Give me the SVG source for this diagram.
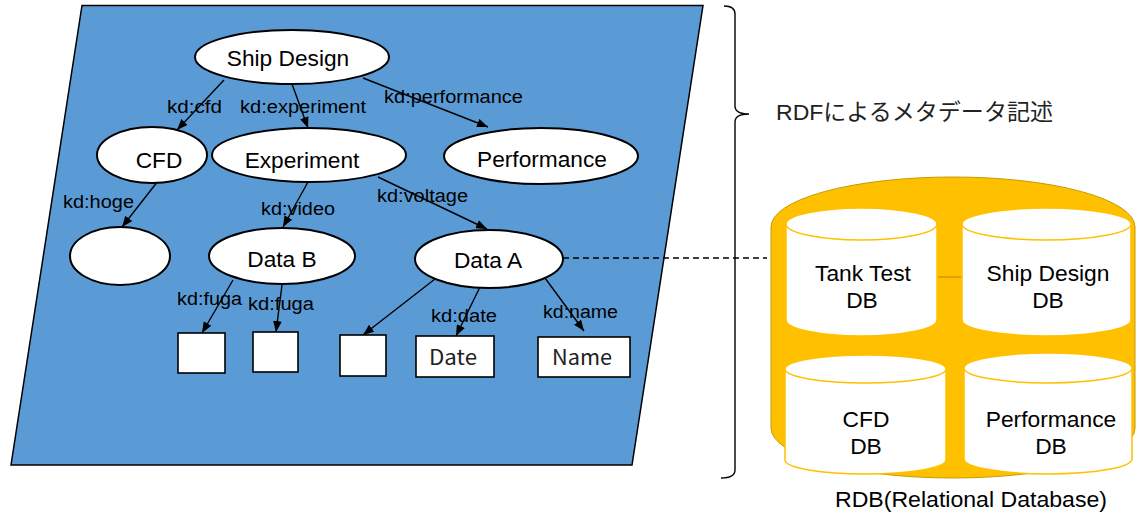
<svg xmlns="http://www.w3.org/2000/svg" width="1136" height="516" viewBox="0 0 1136 516">
  <defs>
    <marker id="arrow" viewBox="0 0 10 8" refX="10" refY="4" markerWidth="11" markerHeight="9" markerUnits="userSpaceOnUse" orient="auto">
      <path d="M0,0 L10,4 L0,8 Z" fill="#000"/>
    </marker>
    <style>
      .plane { fill: #5B9BD5; stroke: #000; stroke-width: 1.5; }
      .node { fill: #fff; stroke: #000; stroke-width: 2; }
      .leaf { fill: #fff; stroke: #000; stroke-width: 1.6; }
      .edge { stroke: #000; stroke-width: 1.4; fill: none; marker-end: url(#arrow); }
      .lbl { font-family: "Liberation Sans", Arial, sans-serif; font-size: 18px; fill: #000; }
      .ntxt { font-family: "Liberation Sans", Arial, sans-serif; font-size: 22.7px; fill: #000; text-anchor: middle; }
      .btxt { font-family: "Noto Sans CJK JP", "Noto Sans", sans-serif; font-size: 21px; fill: #222; text-anchor: middle; }
      .db { fill: #fff; stroke: #FFC000; stroke-width: 1.5; }
      .dbtxt { font-family: "Liberation Sans", Arial, sans-serif; font-size: 22.8px; fill: #000; text-anchor: middle; }
    </style>
  </defs>

  <!-- metadata plane -->
  <polygon class="plane" points="82,5.5 703,5.5 632,465 11,465"/>

  <!-- connectors -->
  <g id="connectors">
    <line class="edge" x1="224" y1="80" x2="177" y2="130"/>
    <line class="edge" x1="292" y1="84" x2="308" y2="128"/>
    <line class="edge" x1="363" y1="78" x2="488" y2="127"/>
    <line class="edge" x1="158" y1="181" x2="122" y2="227"/>
    <line class="edge" x1="308" y1="182" x2="283" y2="227"/>
    <line class="edge" x1="378" y1="177" x2="487" y2="229"/>
    <line class="edge" x1="233" y1="280" x2="202" y2="333"/>
    <line class="edge" x1="282" y1="285" x2="276" y2="332"/>
    <line class="edge" x1="435" y1="279" x2="363" y2="335"/>
    <line class="edge" x1="480" y1="287" x2="456" y2="336"/>
    <line class="edge" x1="545" y1="278" x2="584" y2="331"/>
    <line x1="563" y1="258" x2="767" y2="258" stroke="#000" stroke-width="1.3" stroke-dasharray="6,4"/>
    <text class="lbl" x="167" y="113" textLength="55" lengthAdjust="spacingAndGlyphs">kd:cfd</text>
    <text class="lbl" x="240" y="113" textLength="126" lengthAdjust="spacingAndGlyphs">kd:experiment</text>
    <text class="lbl" x="384" y="103" textLength="139" lengthAdjust="spacingAndGlyphs">kd:performance</text>
    <text class="lbl" x="63" y="208" textLength="71" lengthAdjust="spacingAndGlyphs">kd:hoge</text>
    <text class="lbl" x="261" y="215" textLength="74" lengthAdjust="spacingAndGlyphs">kd:video</text>
    <text class="lbl" x="377" y="202" textLength="91" lengthAdjust="spacingAndGlyphs">kd:voltage</text>
    <text class="lbl" x="177" y="305" textLength="65" lengthAdjust="spacingAndGlyphs">kd:fuga</text>
    <text class="lbl" x="248" y="310" textLength="66" lengthAdjust="spacingAndGlyphs">kd:fuga</text>
    <text class="lbl" x="431" y="322" textLength="66" lengthAdjust="spacingAndGlyphs">kd:date</text>
    <text class="lbl" x="543" y="318" textLength="75" lengthAdjust="spacingAndGlyphs">kd:name</text>
  </g>

  <!-- resource nodes -->
  <g id="ship-design">
    <ellipse class="node" cx="292" cy="57" rx="97" ry="27"/>
    <text class="ntxt" x="288" y="66">Ship Design</text>
  </g>
  <g id="cfd">
    <ellipse class="node" cx="152" cy="155" rx="55" ry="28"/>
    <text class="ntxt" x="159" y="168">CFD</text>
  </g>
  <g id="experiment">
    <ellipse class="node" cx="309" cy="155" rx="97" ry="27"/>
    <text class="ntxt" x="302" y="168">Experiment</text>
  </g>
  <g id="performance">
    <ellipse class="node" cx="541" cy="156" rx="97" ry="28"/>
    <text class="ntxt" x="542" y="167">Performance</text>
  </g>
  <g id="blank-node">
    <ellipse class="node" cx="120" cy="256" rx="50" ry="29"/>
  </g>
  <g id="data-b">
    <ellipse class="node" cx="282" cy="256" rx="73" ry="28"/>
    <text class="ntxt" x="282" y="267">Data B</text>
  </g>
  <g id="data-a">
    <ellipse class="node" cx="489" cy="259" rx="74" ry="29"/>
    <text class="ntxt" x="488" y="268">Data A</text>
  </g>

  <!-- literal nodes -->
  <g id="lit-1"><rect class="leaf" x="178" y="333" width="47" height="40"/></g>
  <g id="lit-2"><rect class="leaf" x="253" y="332" width="45" height="40"/></g>
  <g id="lit-3"><rect class="leaf" x="340" y="335" width="46" height="41"/></g>
  <g id="lit-date">
    <rect class="leaf" x="416" y="336" width="78" height="41"/>
    <text class="btxt" x="453" y="365" textLength="48" lengthAdjust="spacingAndGlyphs">Date</text>
  </g>
  <g id="lit-name">
    <rect class="leaf" x="538" y="337" width="92" height="40"/>
    <text class="btxt" x="582" y="365" textLength="60" lengthAdjust="spacingAndGlyphs">Name</text>
  </g>

  <!-- brace and caption -->
  <g id="brace">
    <path d="M724,6 Q735,6 735,14 L735,106 Q735,114 749,114 Q735,114 735,122 L735,470 Q735,478 721,478" fill="none" stroke="#000" stroke-width="1.4"/>
    <text x="776" y="120" font-family="'Liberation Sans', 'Noto Sans CJK JP', sans-serif" font-size="22.5" fill="#222" textLength="277" lengthAdjust="spacingAndGlyphs">RDFによるメタデータ記述</text>
  </g>

  <!-- relational database -->
  <g id="rdb">
    <path d="M771,227 A182,50 0 0 1 1135,227 L1135,428 A182,50 0 0 1 771,428 Z" fill="#FFC000" stroke="#C59A00" stroke-width="1"/>
    <line x1="938" y1="277" x2="961" y2="277" stroke="#BF9000" stroke-width="1.2"/>
    <text class="dbtxt" x="971" y="507" font-size="21" textLength="272" lengthAdjust="spacingAndGlyphs">RDB(Relational Database)</text>
  </g>
  <g id="db-tank-test">
    <path class="db" d="M786,224 L786,320 A75.5,16 0 0 0 937,320 L937,224 Z"/>
    <ellipse class="db" cx="861.5" cy="224" rx="75.5" ry="16"/>
    <text class="dbtxt" x="863" y="281">Tank Test</text>
    <text class="dbtxt" x="862" y="308">DB</text>
  </g>
  <g id="db-ship-design">
    <path class="db" d="M962,224 L962,320 A84.5,16 0 0 0 1131,320 L1131,224 Z"/>
    <ellipse class="db" cx="1046.5" cy="224" rx="84.5" ry="16"/>
    <text class="dbtxt" x="1048" y="281">Ship Design</text>
    <text class="dbtxt" x="1048" y="308">DB</text>
  </g>
  <g id="db-cfd">
    <path class="db" d="M785,369 L785,460 A80.5,14 0 0 0 946,460 L946,369 Z"/>
    <ellipse class="db" cx="865.5" cy="369" rx="80.5" ry="14"/>
    <text class="dbtxt" x="866" y="427">CFD</text>
    <text class="dbtxt" x="866" y="454">DB</text>
  </g>
  <g id="db-performance">
    <path class="db" d="M964,368 L964,459 A84,15 0 0 0 1132,459 L1132,368 Z"/>
    <ellipse class="db" cx="1048" cy="368" rx="84" ry="15"/>
    <text class="dbtxt" x="1051" y="427">Performance</text>
    <text class="dbtxt" x="1051" y="454">DB</text>
  </g>
</svg>
